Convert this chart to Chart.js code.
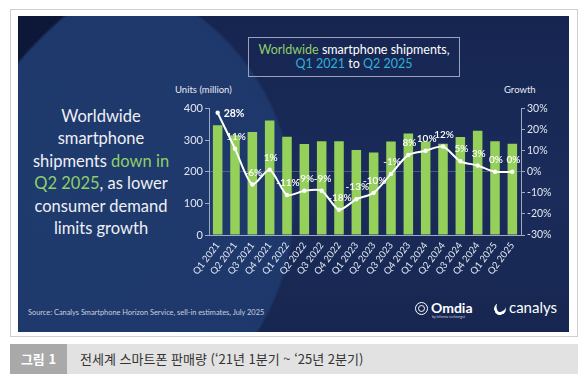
<!DOCTYPE html>
<html lang="ko">
<head>
<meta charset="UTF-8">
<title>Worldwide smartphone shipments</title>
<style>
  body { margin: 0; width: 587px; height: 391px; background: #fff; position: relative; overflow: hidden; font-family: Lato, "Noto Sans", sans-serif; }
  #frame { position: absolute; left: 10px; top: 9px; width: 566px; height: 326px; border: 1px solid #cfcfcf; background: #fff; }
  #panel { position: absolute; left: 18px; top: 16px; width: 551px; height: 316px; overflow: hidden;
    background:
      radial-gradient(circle 393px at 300px 300px, rgba(13,24,56,0) 391px, #0d1838 394px),
      radial-gradient(ellipse 250px 245px at 30px 190px, #1f3a6d 0, #1e386b 244px, rgba(30,56,107,0) 247px),
      linear-gradient(180deg, #162550 0%, #1b2c5b 55%, #172650 100%); }
  #box { position: absolute; left: 248px; top: 37px; width: 210px; height: 36px; border: 1px solid #9aa3b8; color: #fff;
    font-size: 12.5px; text-align: center; line-height: 14px; padding-top: 5px; box-sizing: content-box; height: 33px; }
  .g { color: #8fcf6a; }
  .c { color: #2fb0d6; }
  #lead { position: absolute; left: 20px; top: 105px; width: 162px; text-align: center; color: #eef0f5; font-size: 16.5px; line-height: 22.4px; }
  .axt { position: absolute; top: 84px; color: #e6eaf2; font-size: 9.5px; }
  #wrap { position: absolute; left: 170px; top: 100px; width: 395px; height: 185px; }
  #src { position: absolute; left: 28px; top: 308px; color: #c9cfdf; font-size: 7.4px; }
  #omdia { position: absolute; left: 415px; top: 300px; color: #fff; }
  #omdia .ring { position: absolute; left: 0; top: 2px; width: 11px; height: 11px; border: 1.5px solid #fff; border-radius: 50%; }
  #omdia .ring2 { position: absolute; left: 3px; top: 5px; width: 5px; height: 5px; border: 1.2px solid #fff; border-radius: 50%; }
  #omdia .name { position: absolute; left: 16px; top: -1px; font-weight: 700; font-size: 14px; }
  #omdia .by { position: absolute; left: 17px; top: 15px; font-size: 3.5px; color: #ccd; white-space: nowrap; }
  #canalys { position: absolute; left: 494px; top: 300px; color: #fff; }
  #canalys .sw { position: absolute; left: 0; top: 3px; width: 9px; height: 9px; border-radius: 50% 50% 50% 50%; border-left: 3px solid #fff; border-bottom: 3px solid #fff; transform: rotate(-20deg); }
  #canalys .name { position: absolute; left: 15px; top: -2px; font-size: 15px; white-space: nowrap; }
  #cap { position: absolute; left: 10px; top: 344px; width: 568px; height: 30px; background: #e2e2e2; }
  #cap .tag { position: absolute; left: 0; top: 0; width: 57px; height: 30px; background: #a9a9a9; color: #fff; font-family: "Noto Sans CJK KR", sans-serif; font-weight: 700; font-size: 13px; line-height: 30px; text-align: center; }
  #cap .txt { position: absolute; left: 70px; top: 0; line-height: 30px; color: #333; font-family: "Noto Sans CJK KR", sans-serif; font-size: 13px; white-space: nowrap; }
</style>
<script src="https://cdn.jsdelivr.net/npm/chart.js"></script>
</head>
<body>
<div id="frame"></div>
<div id="panel"></div>
<div id="box"><span class="g">Worldwide</span> smartphone shipments,<br><span class="c">Q1 2021</span> to <span class="c">Q2 2025</span></div>
<div id="lead">Worldwide<br>smartphone<br>shipments <span class="g">down in</span><br><span class="g">Q2 2025</span>, as lower<br>consumer demand<br>limits growth</div>
<div class="axt" style="left:175px">Units (million)</div>
<div class="axt" style="left:504px">Growth</div>
<div id="wrap"><canvas id="chart"></canvas></div>
<div id="src">Source: Canalys Smartphone Horizon Service, sell-in estimates, July 2025</div>
<div id="omdia"><div class="ring"></div><div class="ring2"></div><div class="name">Omdia</div><div class="by">by informa techtarget</div></div>
<div id="canalys"><div class="sw"></div><div class="name">canalys</div></div>
<div id="cap"><div class="tag">그림 1</div><div class="txt">전세계 스마트폰 판매량 (‘21년 1분기 ~ ‘25년 2분기)</div></div>

<script>
const quarters = ['Q1 2021','Q2 2021','Q3 2021','Q4 2021','Q1 2022','Q2 2022','Q3 2022','Q4 2022','Q1 2023','Q2 2023','Q3 2023','Q4 2023','Q1 2024','Q2 2024','Q3 2024','Q4 2024','Q1 2025','Q2 2025'];
const shipments = [347, 316, 326, 362, 311, 288, 297, 297, 269, 261, 296, 321, 296, 289, 310, 330, 297, 289];
const growth = [28, 11, -6, 1, -11, -9, -9, -18, -13, -10, -1, 8, 10, 12, 5, 3, 0, 0];
const unitTicks = [0, 50, 100, 150, 200, 250, 300, 350, 400];
const growthTicks = [-30, -20, -10, 0, 10, 20, 30];

const axisCol = '#9ea9c2';
const tickCol = '#e3e8f1';

const growthLabels = {
  id: 'growthLabels',
  afterDatasetsDraw(chart) {
    const ctx = chart.ctx;
    const meta = chart.getDatasetMeta(1);
    ctx.save();
    ctx.fillStyle = '#ffffff';
    ctx.textBaseline = 'middle';
    meta.data.forEach((pt, i) => {
      const txt = growth[i] + '%';
      if (i === 0) {
        ctx.font = 'bold 10.5px Lato';
        ctx.textAlign = 'left';
        ctx.fillText(txt, pt.x + 6, pt.y + 1);
      } else {
        ctx.font = '600 10px Lato';
        ctx.textAlign = 'center';
        ctx.fillText(txt, pt.x + 1, pt.y - 12);
      }
    });
    ctx.restore();
  }
};

new Chart(document.getElementById('chart'), {
  data: {
    labels: quarters,
    datasets: [{
      type: 'bar',
      label: 'Units (million)',
      data: shipments,
      backgroundColor: '#94d05a',
      yAxisID: 'y',
      categoryPercentage: 1,
      barPercentage: 0.55,
      order: 1
    }, {
      type: 'line',
      label: 'Growth',
      data: growth,
      borderColor: '#ffffff',
      borderWidth: 2,
      pointRadius: 2.2,
      pointBackgroundColor: '#ffffff',
      pointBorderWidth: 0,
      tension: 0.25,
      yAxisID: 'y1',
      order: 0
    }]
  },
  options: {
    responsive: true,
    maintainAspectRatio: false,
    animation: false,
    devicePixelRatio: 1,
    layout: { padding: { top: 6 } },
    plugins: { legend: { display: false }, tooltip: { enabled: false } },
    scales: {
      x: {
        offset: true,
        grid: { display: false, drawTicks: false },
        border: { display: true, color: axisCol },
        ticks: { color: tickCol, font: { family: 'Lato', size: 9.5 }, minRotation: 53, maxRotation: 53, autoSkip: false, padding: 5 },
        afterFit(s) { s.height = 50; }
      },
      y: {
        position: 'left',
        min: 0, max: 400,
        afterBuildTicks(s) { s.ticks = unitTicks.map(v => ({ value: v })); },
        grid: {
          color: c => (c.tick && c.tick.value === 200) ? 'rgba(255,255,255,0.22)' : 'rgba(0,0,0,0)',
          tickColor: axisCol, tickLength: 4
        },
        border: { color: axisCol },
        ticks: { color: tickCol, font: { family: 'Lato', size: 11 }, padding: 2 },
        afterFit(s) { s.width = 39; }
      },
      y1: {
        position: 'right',
        min: -30, max: 30,
        afterBuildTicks(s) { s.ticks = growthTicks.map(v => ({ value: v })); },
        grid: { drawOnChartArea: false, tickColor: axisCol, tickLength: 4 },
        border: { color: axisCol },
        ticks: { color: tickCol, font: { family: 'Lato', size: 10.5 }, padding: 2, callback: v => v + '%' },
        afterFit(s) { s.width = 44; }
      }
    }
  },
  plugins: [growthLabels]
});
</script>
</body>
</html>
